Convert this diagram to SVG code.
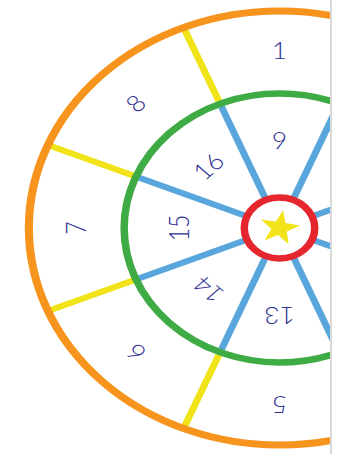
<svg xmlns="http://www.w3.org/2000/svg" width="338" height="454" viewBox="0 0 338 454">
<style>
.num{font-family:Lato,"Open Sans","DejaVu Sans",sans-serif;font-weight:300;font-size:23px;fill:#2e3192;text-anchor:middle;dominant-baseline:central}
.blue{stroke:#58a6dc;stroke-width:6}
.yel{stroke:#f0e418;stroke-width:6}
.ring{fill:none}
</style>
<defs>
<clipPath id="clip"><rect x="0" y="0" width="330" height="454"/></clipPath>
</defs>
<rect width="338" height="454" fill="#ffffff"/>
<g clip-path="url(#clip)">
<g transform="translate(279.5,228) scale(1.155,1)">
<g id="spokes">
<g id="inner-spokes" class="blue">
<line x1="0" y1="-32" x2="0" y2="-134" transform="rotate(22.5)"/>
<line x1="0" y1="-32" x2="0" y2="-134" transform="rotate(67.5)"/>
<line x1="0" y1="-32" x2="0" y2="-134" transform="rotate(112.5)"/>
<line x1="0" y1="-32" x2="0" y2="-134" transform="rotate(157.5)"/>
<line x1="0" y1="-32" x2="0" y2="-134" transform="rotate(-22.5)"/>
<line x1="0" y1="-32" x2="0" y2="-134" transform="rotate(-67.5)"/>
<line x1="0" y1="-32" x2="0" y2="-134" transform="rotate(-112.5)"/>
<line x1="0" y1="-32" x2="0" y2="-134" transform="rotate(-157.5)"/>
</g>
<g id="outer-spokes" class="yel">
<line x1="0" y1="-134" x2="0" y2="-217" transform="rotate(22.5)"/>
<line x1="0" y1="-134" x2="0" y2="-217" transform="rotate(67.5)"/>
<line x1="0" y1="-134" x2="0" y2="-217" transform="rotate(112.5)"/>
<line x1="0" y1="-134" x2="0" y2="-217" transform="rotate(157.5)"/>
<line x1="0" y1="-134" x2="0" y2="-217" transform="rotate(-22.5)"/>
<line x1="0" y1="-134" x2="0" y2="-217" transform="rotate(-67.5)"/>
<line x1="0" y1="-134" x2="0" y2="-217" transform="rotate(-112.5)"/>
<line x1="0" y1="-134" x2="0" y2="-217" transform="rotate(-157.5)"/>
</g>
</g>
<g id="outer-ring"><circle class="ring" cx="0" cy="0" r="217" stroke="#f7941d" stroke-width="7"/></g>
<g id="middle-ring"><circle class="ring" cx="0" cy="0" r="134.5" stroke="#3fab45" stroke-width="6.5"/></g>
<g id="center"><circle cx="0" cy="0" r="30.5" fill="#ffffff" stroke="#e5262c" stroke-width="6.5"/>
<polygon fill="#f3e31b" points="3.13,-17.73 5.18,-5.00 17.83,-2.51 6.36,3.38 7.89,16.18 -1.25,7.09 -12.95,12.50 -7.13,1.00 -15.89,-8.45 -3.16,-6.47"/></g>
<g id="n1"><text class="num" x="0" y="-178">1</text></g>
<g id="n8" transform="rotate(-45)"><text class="num" x="0" y="-177">8</text></g>
<g id="n7" transform="rotate(-90)"><text class="num" x="0" y="-177">7</text></g>
<g id="n6" transform="rotate(-135)"><text class="num" x="0" y="-177">6</text></g>
<g id="n5" transform="rotate(180)"><text class="num" x="0" y="-177">5</text></g>
<g id="n9"><text class="num" x="0" y="-88">9</text></g>
<g id="n16" transform="rotate(-45)"><text class="num" x="0" y="-88">16</text></g>
<g id="n15" transform="rotate(-90)"><text class="num" x="0" y="-88">15</text></g>
<g id="n14" transform="rotate(-135)"><text class="num" x="0" y="-88">14</text></g>
<g id="n13" transform="rotate(180)"><text class="num" x="0" y="-88">13</text></g>
</g>
</g>
<rect x="330.5" y="0" width="1" height="454" fill="#b4b4b4"/>
</svg>
